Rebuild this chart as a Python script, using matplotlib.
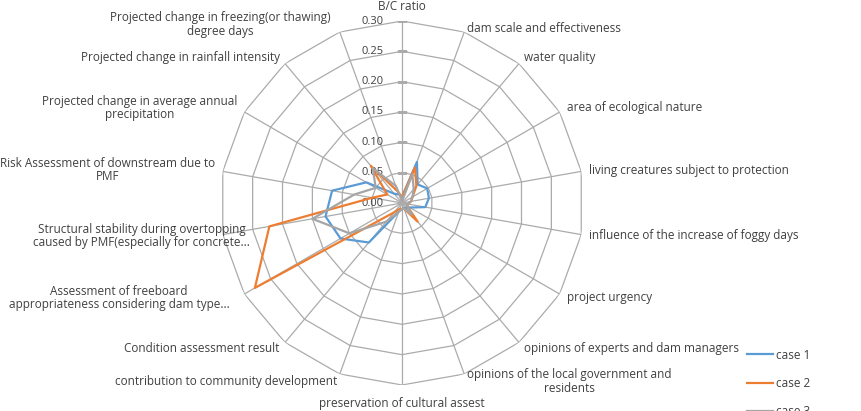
import numpy as np
import matplotlib
matplotlib.use("Agg")
import matplotlib.pyplot as plt

# Kategorien im Uhrzeigersinn, beginnend oben
CATEGORIES = [
    "B/C ratio",
    "dam scale and effectiveness",
    "water quality",
    "area of ecological nature",
    "living creatures subject to protection",
    "influence of the increase of foggy days",
    "project urgency",
    "opinions of experts and dam managers",
    "opinions of the local government and\nresidents",
    "preservation of cultural assest",
    "contribution to community development",
    "Condition assessment result",
    "Assessment of freeboard\nappropriateness considering dam type...",
    "Structural stability during overtopping\ncaused by PMF(especially for concrete...",
    "Risk Assessment of downstream due to\nPMF",
    "Projected change in average annual\nprecipitation",
    "Projected change in rainfall intensity",
    "Projected change in freezing(or thawing)\ndegree days",
]

CASE_1 = [0.010, 0.072, 0.040, 0.048, 0.045, 0.039, 0.015, 0.010, 0.010, 0.010,
          0.015, 0.085, 0.117, 0.128, 0.117, 0.068, 0.020, 0.015]
CASE_2 = [0.010, 0.062, 0.037, 0.020, 0.015, 0.010, 0.010, 0.040, 0.010, 0.010,
          0.010, 0.020, 0.280, 0.222, 0.050, 0.028, 0.080, 0.020]
CASE_3 = [0.005, 0.050, 0.030, 0.020, 0.015, 0.010, 0.010, 0.025, 0.010, 0.010,
          0.015, 0.040, 0.100, 0.150, 0.080, 0.050, 0.075, 0.030]

SERIES_NAMES = ["case 1", "case 2", "case 3"]
RADIAL_TICKS = [0.00, 0.05, 0.10, 0.15, 0.20, 0.25, 0.30]

COLORS = ["#5B9BD5", "#ED7D31", "#A5A5A5"]
GRID_COLOR = "#ABABAB"
TEXT_COLOR = "#404040"
FONT = "Open Sans"
FONT_SIZE = 8.5
TICK_SIZE = 8.0

# Excel verschiebt einzelne Beschriftungen leicht (Pixel, x rechts / y oben)
LABEL_NUDGE = {
    1: (0, -4),
    9: (0, -4),
    12: (-8, 0),
    13: (35, 0),
    17: (-6, 0),
}

plt.rcParams["font.family"] = [FONT, "DejaVu Sans"]

fig = plt.figure(figsize=(8.62, 4.11), dpi=100)
cx, cy, rad = 402 / 862, 1 - 203 / 411, 182
ax = fig.add_axes([cx - rad / 862, cy - rad / 411, 2 * rad / 862, 2 * rad / 411],
                  projection="polar")
ax.set_theta_zero_location("N")
ax.set_theta_direction(-1)
ax.set_ylim(0, RADIAL_TICKS[-1])
ax.grid(False)
ax.set_xticks([])
ax.set_yticks([])
ax.spines["polar"].set_visible(False)
ax.patch.set_alpha(0)

n = len(CATEGORIES)
angles = np.linspace(0, 2 * np.pi, n, endpoint=False)
closed = np.concatenate([angles, angles[:1]])

# Polygonale Gitterlinien wie in Excel
for r in RADIAL_TICKS[1:]:
    ax.plot(closed, [r] * (n + 1), color=GRID_COLOR, lw=0.9, zorder=1)
for a in angles:
    ax.plot([a, a], [0, RADIAL_TICKS[-1]], color=GRID_COLOR, lw=0.9, zorder=1)

# Achsenbeschriftung
for r in RADIAL_TICKS:
    ax.annotate(f"{r:.2f}", xy=(0, r), xytext=(-18, 0), textcoords="offset pixels",
                ha="right", va="center", fontsize=TICK_SIZE, color=TEXT_COLOR)
ax.plot([0] * len(RADIAL_TICKS), RADIAL_TICKS, ls="none", marker="_",
        markersize=7, color=GRID_COLOR, zorder=1)

for values, color, name in zip([CASE_1, CASE_2, CASE_3], COLORS, SERIES_NAMES):
    vals = list(values) + [values[0]]
    ax.plot(closed, vals, color=color, lw=1.6, label=name, zorder=3)

# Kategorienbeschriftung
for i, (a, label) in enumerate(zip(angles, CATEGORIES)):
    s, c = np.sin(a), np.cos(a)
    if s > 0.1:
        ha = "left"
    elif s < -0.1:
        ha = "right"
    else:
        ha = "center"
    if c > 0.95:
        va = "bottom"
    elif c < -0.95:
        va = "top"
    else:
        va = "center"
    dx, dy = LABEL_NUDGE.get(i, (0, 0))
    ax.annotate(label, xy=(a, RADIAL_TICKS[-1]), xytext=(8 * s + dx, 8 * c + dy),
                textcoords="offset pixels", ha=ha, va=va, multialignment="center",
                fontsize=FONT_SIZE, color=TEXT_COLOR, annotation_clip=False,
                linespacing=1.05)

fig.legend(loc="upper left", bbox_to_anchor=(736 / 862, 1 - 338 / 411),
           frameon=False, fontsize=FONT_SIZE, handlelength=2.2,
           labelspacing=1.3, handletextpad=0.3, labelcolor=TEXT_COLOR)

fig.savefig("out.png", dpi=100)
